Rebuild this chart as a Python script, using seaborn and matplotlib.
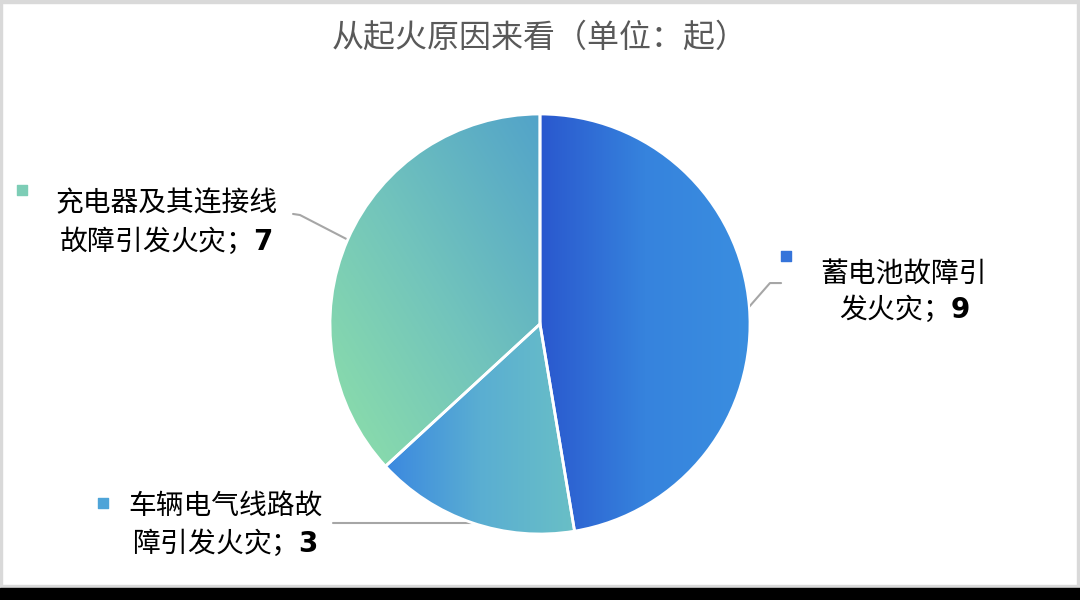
import numpy as np
import matplotlib
matplotlib.use("Agg")
import matplotlib.pyplot as plt
from matplotlib.colors import LinearSegmentedColormap
from matplotlib.patches import Rectangle, Wedge
import seaborn as sns

# 起火原因数据
causes = ["蓄电池故障引\n发火灾；", "车辆电气线路故\n障引发火灾；", "充电器及其连接线\n故障引发火灾；"]
counts = [9, 3, 7]
title = "从起火原因来看（单位：起）"

# 渐变色 (色标, 方向)
grad_colors = [(["#2a58ce", "#3683dd", "#3a8ee0"], "h"),
               (["#3b88e0", "#5aaed2", "#69bfc6"], "h"),
               (["#8ee0a8", "#72c4bc", "#52a3c9"], "d")]
marker_colors = ["#3574da", "#4ea4d8", "#7dcdb6"]

sns.set_theme(style="white")
plt.rcParams["font.family"] = ["Noto Sans CJK SC", "DejaVu Sans"]
plt.rcParams["mathtext.fontset"] = "dejavusans"

fig = plt.figure(figsize=(10.8, 6), dpi=100)
fig.patch.set_facecolor("white")

# 边框
fig.patches.append(Rectangle((0, 597/600), 1, 3/600, transform=fig.transFigure, color="#d9d9d9", zorder=0))
fig.patches.append(Rectangle((0, 0), 2/1080, 1, transform=fig.transFigure, color="#d9d9d9", zorder=0))
fig.patches.append(Rectangle((1077/1080, 0), 3/1080, 1, transform=fig.transFigure, color="#d9d9d9", zorder=0))
fig.patches.append(Rectangle((0, 12/600), 1, 3/600, transform=fig.transFigure, color="#d9d9d9", zorder=0))
fig.patches.append(Rectangle((0, 0), 1, 12/600, transform=fig.transFigure, color="black", zorder=1))

ax = fig.add_axes([330/1080, 66/600, 420/1080, 420/600])
wedges, _ = ax.pie(counts, startangle=90, counterclock=False,
                   colors=[c[0][1] for c in grad_colors],
                   wedgeprops=dict(edgecolor="white", linewidth=2))

for w, (stops, mode) in zip(wedges, grad_colors):
    bb = w.get_path().get_extents()
    cmap = LinearSegmentedColormap.from_list("g", stops)
    xx, yy = np.meshgrid(np.linspace(0, 1, 200), np.linspace(0, 1, 200))
    t = xx if mode == "h" else (xx + yy) / 2
    im = ax.imshow(t, cmap=cmap, origin="lower", extent=[bb.x0, bb.x1, bb.y0, bb.y1],
                   interpolation="bilinear", zorder=2)
    im.set_clip_path(w)
    ax.add_patch(Wedge(w.center, w.r, w.theta1, w.theta2, facecolor="none",
                       edgecolor="white", linewidth=2, zorder=3))

ax.set_xlim(-1, 1)
ax.set_ylim(-1, 1)
ax.set_aspect("equal")
ax.axis("off")

def mid_point(w):
    a = np.deg2rad((w.theta1 + w.theta2) / 2)
    return np.cos(a), np.sin(a)

def label(i):
    return causes[i] + r"$\mathbf{%d}$" % counts[i]

line_kw = dict(color="#a6a6a6", linewidth=1.5, clip_on=False, zorder=1)
text_kw = dict(fontsize=20, color="black", ha="center", va="center", multialignment="center",
               fontweight="medium", clip_on=False)

# 蓄电池
px, py = mid_point(wedges[0])
ax.plot([px, 1.095, 1.148], [py, 0.195, 0.195], **line_kw)
ax.scatter([1.171], [0.324], marker="s", s=55, color=marker_colors[0], clip_on=False)
ax.text(1.733, 0.155, label(0), linespacing=1.2, **text_kw)

# 车辆电气线路
px, py = mid_point(wedges[1])
ax.plot([px, -0.986], [py, py], **line_kw)
ax.scatter([-2.081], [-0.852], marker="s", s=55, color=marker_colors[1], clip_on=False)
ax.text(-1.5, -0.957, label(1), linespacing=1.3, **text_kw)

# 充电器
px, py = mid_point(wedges[2])
ax.plot([px, -1.143, -1.176], [py, 0.519, 0.524], **line_kw)
ax.scatter([-2.467], [0.638], marker="s", s=55, color=marker_colors[2], clip_on=False)
ax.text(-1.781, 0.483, label(2), linespacing=1.3, **text_kw)

fig.text(0.5, 1 - 38/600, title, fontsize=23, color="#595959", ha="center", va="center")

fig.savefig("out.png", dpi=100)
